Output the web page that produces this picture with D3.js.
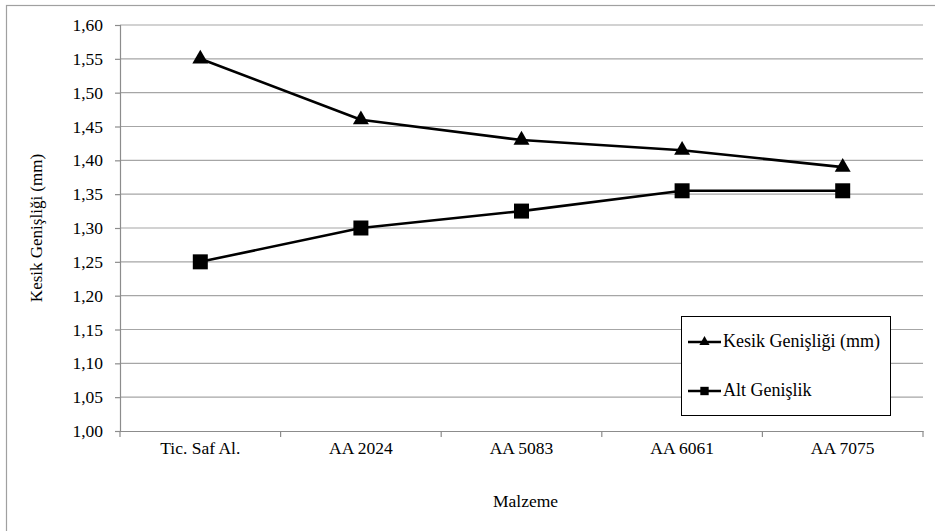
<!DOCTYPE html>
<html>
<head>
<meta charset="utf-8">
<script src="https://cdn.jsdelivr.net/npm/d3@7"></script>
<style>
  html, body { margin: 0; padding: 0; background: #fff; }
  svg { display: block; }
</style>
</head>
<body>
<svg id="chart" width="935" height="531"></svg>
<script>
// Materials along the horizontal axis
const categories = ["Tic. Saf Al.", "AA 2024", "AA 5083", "AA 6061", "AA 7075"];
// Kerf width at the top (mm)
const kesikGenisligi = [1.55, 1.46, 1.43, 1.415, 1.39];
// Bottom width (mm)
const altGenislik = [1.25, 1.30, 1.325, 1.355, 1.355];
// Y axis ticks
const yTicks = [1.00, 1.05, 1.10, 1.15, 1.20, 1.25, 1.30, 1.35, 1.40, 1.45, 1.50, 1.55, 1.60];

const FONT = '"Liberation Serif"';
const FS = "17.5px";

const series = [
  { name: "Kesik Genişliği (mm)", values: kesikGenisligi, symbol: d3.symbolTriangle },
  { name: "Alt Genişlik", values: altGenislik, symbol: d3.symbolSquare }
];

const svg = d3.select("#chart");
const margin = { left: 120, top: 25, right: 923, bottom: 431 };

// outer frame
svg.append("rect")
  .attr("x", 6.5).attr("y", 5.5)
  .attr("width", 1000).attr("height", 1000)
  .attr("fill", "none").attr("stroke", "#a0a0a0").attr("stroke-width", 1.2);

const x = d3.scaleBand().domain(categories).range([margin.left, margin.right]);
const y = d3.scaleLinear().domain([1.0, 1.6]).range([margin.bottom, margin.top]);

const fmt = d => d.toFixed(2).replace(".", ",");

// horizontal gridlines
svg.append("g").selectAll("line")
  .data(yTicks.filter(t => t > 1.0))
  .join("line")
  .attr("x1", margin.left).attr("x2", margin.right)
  .attr("y1", d => y(d)).attr("y2", d => y(d))
  .attr("stroke", "#a6a6a6").attr("stroke-width", 1.2);

// y axis
const yAxis = svg.append("g")
  .attr("transform", `translate(${margin.left},0)`)
  .call(d3.axisLeft(y).tickValues(yTicks).tickFormat(fmt).tickSize(5).tickPadding(12));
yAxis.selectAll("path, line").attr("stroke", "#8c8c8c").attr("stroke-width", 1.2);
yAxis.selectAll("text")
  .style("font-family", FONT).style("font-size", FS).attr("fill", "#000");

// x axis with tick marks on category boundaries
const xAxis = svg.append("g")
  .attr("transform", `translate(0,${margin.bottom})`)
  .call(d3.axisBottom(x).tickSize(0).tickPadding(11));
xAxis.select("path").attr("stroke", "#8c8c8c").attr("stroke-width", 1.2);
xAxis.selectAll("text")
  .style("font-family", FONT).style("font-size", FS).attr("fill", "#000");
const bounds = categories.map(c => x(c)).concat([x(categories[categories.length - 1]) + x.bandwidth()]);
xAxis.selectAll("line.bound")
  .data(bounds)
  .join("line")
  .attr("class", "bound")
  .attr("x1", d => d).attr("x2", d => d)
  .attr("y1", 0).attr("y2", 6)
  .attr("stroke", "#8c8c8c").attr("stroke-width", 1.2);

// axis titles
svg.append("text")
  .attr("transform", `translate(42,${(margin.top + margin.bottom) / 2}) rotate(-90)`)
  .attr("text-anchor", "middle")
  .style("font-family", FONT).style("font-size", "17px")
  .text("Kesik Genişliği (mm)");
svg.append("text")
  .attr("x", (margin.left + margin.right) / 2 + 4).attr("y", 507)
  .attr("text-anchor", "middle")
  .style("font-family", FONT).style("font-size", FS)
  .text("Malzeme");

// series lines and markers
const cx = c => x(c) + x.bandwidth() / 2;
const line = d3.line().x((d, i) => cx(categories[i])).y(d => y(d));

series.forEach(s => {
  svg.append("path")
    .datum(s.values)
    .attr("d", line)
    .attr("fill", "none").attr("stroke", "#000").attr("stroke-width", 2.6)
    .attr("stroke-linejoin", "round");
  svg.append("g").selectAll("path")
    .data(s.values)
    .join("path")
    .attr("transform", (d, i) => `translate(${cx(categories[i])},${y(d)})`)
    .attr("d", d3.symbol().type(s.symbol).size(s.symbol === d3.symbolSquare ? 225 : 110))
    .attr("fill", "#000");
});

// legend
const lg = svg.append("g").attr("transform", "translate(681,316)");
lg.append("rect")
  .attr("x", 0.5).attr("y", 0.5).attr("width", 209).attr("height", 99)
  .attr("fill", "#fff").attr("stroke", "#000").attr("stroke-width", 1);
series.forEach((s, i) => {
  const yy = 26 + i * 49;
  lg.append("line")
    .attr("x1", 7).attr("x2", 40).attr("y1", yy).attr("y2", yy)
    .attr("stroke", "#000").attr("stroke-width", 2.6);
  lg.append("path")
    .attr("transform", `translate(23.5,${yy})`)
    .attr("d", d3.symbol().type(s.symbol).size(s.symbol === d3.symbolSquare ? 70 : 45))
    .attr("fill", "#000");
  lg.append("text")
    .attr("x", 42).attr("y", yy + 5)
    .style("font-family", FONT).style("font-size", "18px")
    .text(s.name);
});
</script>
</body>
</html>
